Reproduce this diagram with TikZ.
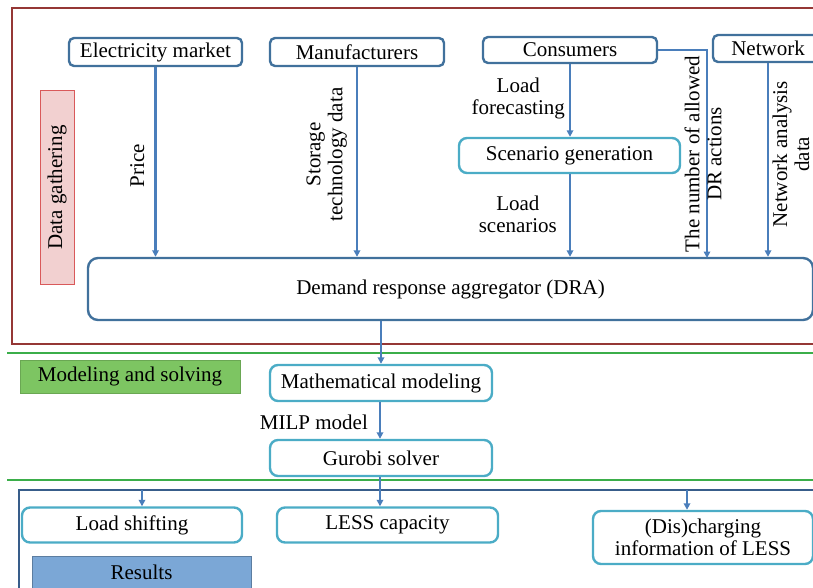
\documentclass[tikz,border=0pt]{standalone}
\usepackage{fontspec}
\setmainfont{Liberation Serif}
\usetikzlibrary{positioning,arrows.meta}

\definecolor{srcblue}{HTML}{41719C}
\definecolor{procteal}{HTML}{4BACC6}
\definecolor{flowblue}{HTML}{4A7EBB}
\definecolor{framered}{HTML}{953735}
\definecolor{sepgreen}{HTML}{3BAE4A}
\definecolor{gatherfill}{HTML}{F2D0D0}
\definecolor{gatherline}{HTML}{D9595A}
\definecolor{modelfill}{HTML}{7DC562}
\definecolor{resfill}{HTML}{7BA7D6}
\definecolor{resline}{HTML}{385D8A}

\begin{document}
\begin{tikzpicture}[%
x=1pt, y=-1pt,
>={Triangle[length=6.5pt,width=6.5pt]},
on grid,
font=\fontsize{21}{22}\selectfont,
srcbox/.style={rectangle, rounded corners=5pt, draw=srcblue, line width=2.4pt, fill=white, inner sep=0pt},
procbox/.style={rectangle, rounded corners=8pt, draw=procteal, line width=2.4pt, fill=white, inner sep=0pt, align=center},
tag/.style={rectangle, line width=1pt, inner sep=0pt},
flow/.style={->, flowblue, line width=2.2pt},
lbl/.style={text=black, inner sep=2pt, align=center}
]
\useasboundingbox (0,0) rectangle (813,588);

% stage frames
\draw[framered, line width=2.6pt] (12,8) rectangle (830,344);
\draw[sepgreen, line width=2.2pt] (7,353) -- (830,353);
\draw[sepgreen, line width=2.2pt] (7,480) -- (830,480);
\draw[resline, line width=2.6pt] (19,600) rectangle (830,490);

% data sources
\node[srcbox, minimum width=173pt, minimum height=28pt] (elec) at (155.5,52) {Electricity market};
\node[srcbox, minimum width=174pt, minimum height=28pt] (manu) [right=201.5pt of elec] {Manufacturers};
\node[srcbox, minimum width=174pt, minimum height=26pt] (cons) at (570,50) {Consumers};
\node[srcbox, minimum width=110pt, minimum height=27pt] (netw) at (768,48.5) {Network};
\node[procbox, minimum width=221pt, minimum height=35pt] (scen) at (569.5,155.5) {Scenario generation};
\node[srcbox, rounded corners=10pt, minimum width=725pt, minimum height=62pt] (dra) at (450.5,289) {Demand response aggregator (DRA)};

% modeling and solving
\node[procbox, minimum width=222pt, minimum height=36pt] (math) at (381,383) {Mathematical modeling};
\node[procbox, minimum width=222pt, minimum height=36pt] (gurobi) [below=75pt of math] {Gurobi solver};

% results
\node[procbox, minimum width=220pt, minimum height=35pt] (shift) at (132,525) {Load shifting};
\node[procbox, minimum width=221pt, minimum height=35pt] (less) [right=255.5pt of shift] {LESS capacity};
\node[procbox, minimum width=220pt, minimum height=53pt] (dis) at (703,537.5) {(Dis)charging\\information of LESS};

% stage tags
\node[tag, fill=gatherfill, draw=gatherline, rotate=90, minimum width=193pt, minimum height=34pt] (gather) at (57,187.5) {Data gathering};
\node[tag, fill=modelfill, draw=modelfill!85!black, minimum width=220pt, minimum height=33pt] (modsolve) at (130,376.5) {Modeling and solving};
\node[tag, fill=resfill, draw=resfill!75!black, minimum width=219pt, minimum height=32pt] (results) at (141.5,572) {Results};

\coordinate (drlimit) at (707,258);
\coordinate (tapshift) at (142,490);
\coordinate (tapdis) at (687,490);

\draw[flow] (elec.south) -- (elec.south |- dra.north) node[lbl, xshift=-8pt, rotate=90, pos=0.52, anchor=south] {Price};
\draw[flow] (manu.south) -- (manu.south |- dra.north) node[lbl, xshift=-7pt, rotate=90, pos=0.46, anchor=south] {Storage\\technology data};
\draw[flow] (cons.south) -- (scen.north -| cons.south) node[lbl, pos=0.47, anchor=east, xshift=-2pt] {Load\\forecasting};
\draw[flow] (scen.south -| cons.south) -- (dra.north -| cons.south) node[lbl, pos=0.48, anchor=east, xshift=-10pt] {Load\\scenarios};
\draw[flow] (cons.east) -| (drlimit) node[lbl, xshift=-4pt, rotate=90, pos=0.75] {The number of allowed\\DR actions};
\draw[flow] (netw.south) -- (netw.south |- dra.north) node[lbl, xshift=1.5pt, rotate=90, pos=0.47, anchor=north] {Network analysis\\data};
\draw[flow] (math.north |- dra.south) -- (math.north);
\draw[flow] (math.south -| 380,0) -- (gurobi.north -| 380,0) node[lbl, pos=0.54, anchor=east, xshift=-9pt] {MILP model};
\draw[flow] (gurobi.south -| 380,0) -- (less.north -| 380,0);
\draw[flow] (tapshift) -- (tapshift |- shift.north);
\draw[flow] (tapdis) -- (tapdis |- dis.north);
\end{tikzpicture}
\end{document}
